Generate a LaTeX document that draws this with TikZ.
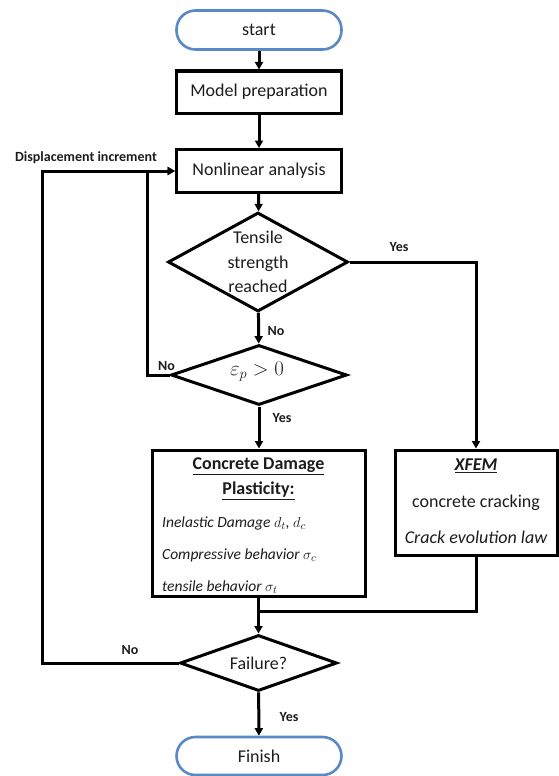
\documentclass[tikz,border=0pt]{standalone}
\usepackage{fontspec}
\setmainfont{Carlito}
\usetikzlibrary{arrows.meta,shapes.geometric}
\definecolor{termblue}{HTML}{5A8AC6}
\definecolor{txt}{HTML}{1C1C1C}
\begin{document}
\begin{tikzpicture}[x=1pt,y=-1pt,
  mainfont/.style={font=\fontsize{18}{24.5}\selectfont},
  box/.style={draw=black,line width=3pt,minimum width=165pt,minimum height=42pt,inner sep=0pt,mainfont,text=txt},
  term/.style={draw=termblue,line width=2.6pt,rounded corners=19pt,minimum width=165pt,minimum height=39pt,inner sep=0pt,mainfont,text=txt},
  dia/.style={draw=black,line width=3pt,diamond,inner sep=0pt},
  bigbox/.style={draw=black,line width=3pt,inner sep=0pt},
  conn/.style={line width=3pt,-{Triangle[length=7.5pt,width=8pt]}},
  plainline/.style={line width=3pt},
  lab/.style={font=\bfseries\fontsize{14}{16}\selectfont,text=txt,inner sep=0pt},
  body/.style={inner sep=0pt,text=txt,mainfont},
  item/.style={inner sep=0pt,text=txt,anchor=west,font=\itshape\fontsize{15.5}{18}\selectfont}
]
\useasboundingbox (0,0) rectangle (558,776);

% main nodes
\node[term] (start) at (259,30) {start};
\node[box] (model) at (259,92) {Model preparation};
\node[box,minimum height=43pt] (nonlin) at (259,171) {Nonlinear analysis};
\node[dia,minimum width=180pt,minimum height=99pt] (d1) at (258,262) {};
\node[body,align=center] (d1t) at (258,262) {Tensile\\strength\\reached};
\node[dia,minimum width=176pt,minimum height=60pt] (d2) at (259,375) {};
\node[body,font=\fontsize{21}{23}\selectfont] (d2t) at (257,372) {$\varepsilon_p > 0$};
\node[bigbox,minimum width=213pt,minimum height=146pt] (cdp) at (258.5,523) {};
\node[bigbox,minimum width=162pt,minimum height=105pt] (xfem) at (476,502.5) {};
\node[dia,minimum width=157pt,minimum height=56pt] (fail) at (258.5,663) {};
\node[body] (failt) at (258.5,663) {Failure?};
\node[term,minimum height=38pt] (finish) at (259,756) {Finish};

% texts in boxes
\node[body,font=\bfseries\fontsize{18}{22}\selectfont] (cdp1) at (258.5,466) {\underline{Concrete Damage}};
\node[body,font=\bfseries\fontsize{18}{22}\selectfont] (cdp2) at (258.5,491) {\underline{Plasticity:}};
\node[item] (cdp3) at (162,523) {Inelastic Damage $d_t$, $d_c$};
\node[item] (cdp4) at (162,555) {Compressive behavior $\sigma_c$};
\node[item] (cdp5) at (162,587) {tensile behavior $\sigma_t$};
\node[body,font=\bfseries\itshape\fontsize{18}{22}\selectfont] (x1) at (476,466) {\underline{XFEM}};
\node[body] (x2) at (476,503) {concrete cracking};
\node[body,font=\itshape\fontsize{18}{22}\selectfont] (x3) at (476,537) {Crack evolution law};

% helper coordinates
\coordinate (in1) at (147,171);
\coordinate (out1) at (42,171);
\coordinate (join) at (258.5,611);

% connectors
\draw[conn] (start) -- (model);
\draw[conn] (model) -- (nonlin);
\draw[conn] (nonlin) -- (d1);
\draw[conn] (d1) -- (d2);
\draw[conn] (d1.east) -| (xfem.north);
\draw[conn] (d2.west) -| (in1) -- (nonlin.west);
\draw[conn] (d2.south) -- (d2.south |- cdp.north);
\draw[conn] (cdp) -- (fail);
\draw[plainline] (xfem.south) |- (join);
\draw[conn] (fail.west) -| (out1) -- (nonlin.west);
\draw[conn] (fail) -- (finish);

% labels
\node[lab] (lDisp) at (86,158) {Displacement increment};
\node[lab] (lYes1) at (399,247) {Yes};
\node[lab] (lNo1) at (276,331) {No};
\node[lab] (lNo2) at (166.5,366) {No};
\node[lab] (lYes2) at (282,418) {Yes};
\node[lab] (lNo3) at (130,650) {No};
\node[lab] (lYes3) at (289,717) {Yes};
\end{tikzpicture}
\end{document}
